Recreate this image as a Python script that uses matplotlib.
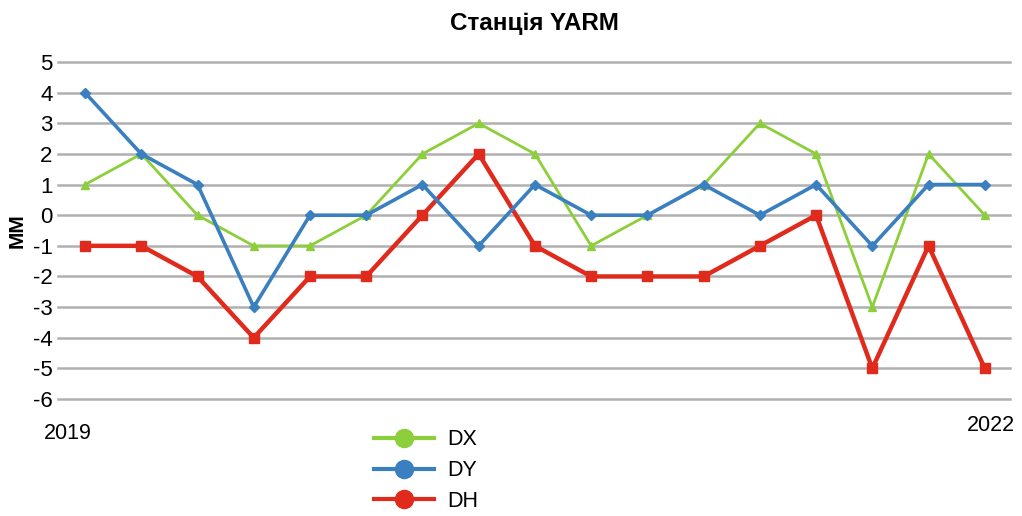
import matplotlib.pyplot as plt
import numpy as np

plt.rcParams['font.family'] = ['Liberation Sans', 'DejaVu Sans']

# Data (mm), 17 epochs between 2019 and 2022
dx = [1, 2, 0, -1, -1, 0, 2, 3, 2, -1, 0, 1, 3, 2, -3, 2, 0]
dy = [4, 2, 1, -3, 0, 0, 1, -1, 1, 0, 0, 1, 0, 1, -1, 1, 1]
dh = [-1, -1, -2, -4, -2, -2, 0, 2, -1, -2, -2, -2, -1, 0, -5, -1, -5]
yticks = [5, 4, 3, 2, 1, 0, -1, -2, -3, -4, -5, -6]
year_start = "2019"
year_end = "2022"

x = np.arange(len(dx))

fig = plt.figure(figsize=(10.22, 5.16), dpi=100)
ax = fig.add_axes([0.0568, 0.2267, 0.931, 0.6531])

# gray horizontal grid
for v in yticks:
    ax.axhline(v, color='#b0b0b0', lw=1.8, zorder=0, clip_on=False)

ax.plot(x, dx, color='#8ccf3a', lw=2.0, marker='^', ms=6, clip_on=False, zorder=3)
ax.plot(x, dy, color='#3a7fc0', lw=2.6, marker='D', ms=5, clip_on=False, zorder=4)
ax.plot(x, dh, color='#df2a1c', lw=3.2, marker='s', ms=7, clip_on=False, zorder=2)

ax.set_xlim(-0.48, 16.44)
ax.set_ylim(-6, 5)
ax.set_yticks(yticks)
ax.set_yticklabels([str(v) for v in yticks], fontsize=16)
ax.tick_params(axis='y', length=0, pad=4)
ax.set_xticks([])
for s in ax.spines.values():
    s.set_visible(False)

ax.set_ylabel("ММ", fontsize=15, fontweight='bold', labelpad=4)
fig.text(0.523, 0.955, "Станція YARM", ha='center', va='center', fontsize=17.5, fontweight='bold')
fig.text(0.043, 0.16, year_start, ha='left', va='center', fontsize=15.5)
fig.text(0.993, 0.175, year_end, ha='right', va='center', fontsize=15.5)

# legend with circle markers
handles = [
    plt.Line2D([], [], color='#8ccf3a', lw=3, marker='o', ms=13),
    plt.Line2D([], [], color='#3a7fc0', lw=3, marker='o', ms=13),
    plt.Line2D([], [], color='#df2a1c', lw=3, marker='o', ms=13),
]
fig.legend(handles, ["DX", "DY", "DH"], loc='center', bbox_to_anchor=(0.417, 0.088),
           frameon=False, fontsize=15.5, handlelength=2.8, handletextpad=0.6,
           labelspacing=0.45)

fig.savefig("out.png", dpi=100)
